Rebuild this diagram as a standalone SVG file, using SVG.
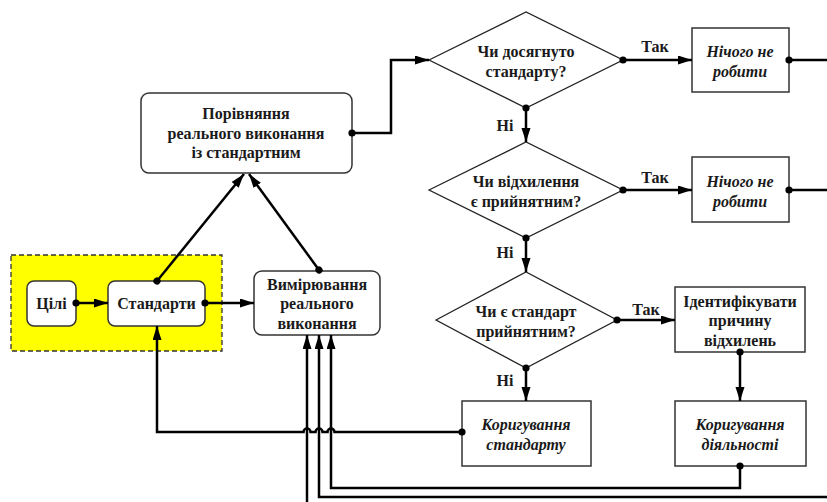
<svg xmlns="http://www.w3.org/2000/svg" width="827" height="502" viewBox="0 0 827 502">
<defs>
<marker id="arr" markerUnits="userSpaceOnUse" markerWidth="16" markerHeight="10" refX="14" refY="4.5" orient="auto"><path d="M0,0 L14,4.5 L0,9 z" fill="#000"/></marker>
<marker id="dot" markerUnits="userSpaceOnUse" markerWidth="8" markerHeight="8" refX="4" refY="4" orient="auto"><circle cx="4" cy="4" r="3.6" fill="#000"/></marker>
</defs>
<style>
.rb{fill:#fff;stroke:#333;stroke-width:1.5}
.bx{fill:#fff;stroke:#333;stroke-width:1.5}
.dm{fill:#fff;stroke:#222;stroke-width:1.3}
.c{fill:none;stroke:#000;stroke-width:2.5}
.a{marker-end:url(#arr)}
.d{marker-start:url(#dot)}
</style>
<rect x="11" y="255" width="211" height="96" fill="#ffff00" stroke="#333" stroke-width="1.3" stroke-dasharray="5,3"/>
<g font-family="Liberation Serif" font-weight="bold" font-size="16" fill="#1a1a1a" text-anchor="middle">
<g id="n_cili"><rect class="rb" x="27" y="281" width="49" height="45" rx="7"/><text x="51.5" y="309">Цілі</text></g>
<g id="n_standarty"><rect class="rb" x="108" y="281" width="97" height="45" rx="7"/><text x="156.5" y="309">Стандарти</text></g>
<g id="n_vymir"><rect class="rb" x="254" y="271" width="126" height="64" rx="8"/><text x="317" y="290">Вимірювання</text><text x="317" y="309">реального</text><text x="317" y="329">виконання</text></g>
<g id="n_porivn"><rect class="rb" x="141" y="93" width="211" height="80" rx="8"/><text x="246" y="119">Порівняння</text><text x="246" y="139">реального виконання</text><text x="246" y="158">із стандартним</text></g>
<g id="n_d1"><polygon class="dm" points="429,60 526,12 623,60 526,108"/><text x="526" y="57">Чи досягнуто</text><text x="526" y="77">стандарту?</text></g>
<g id="n_b1"><rect class="bx" x="692" y="28" width="97" height="64"/><text font-style="italic" x="740" y="57">Нічого не</text><text font-style="italic" x="740" y="77">робити</text></g>
<g id="n_d2"><polygon class="dm" points="429,190 526,142 623,190 526,238"/><text x="526" y="187">Чи відхилення</text><text x="526" y="207">є прийнятним?</text></g>
<g id="n_b2"><rect class="bx" x="692" y="157" width="97" height="65"/><text font-style="italic" x="740" y="187">Нічого не</text><text font-style="italic" x="740" y="207">робити</text></g>
<g id="n_d3"><polygon class="dm" points="436,320 526,272 617,320 526,368"/><text x="526" y="317">Чи є стандарт</text><text x="526" y="337">прийнятним?</text></g>
<g id="n_ident"><rect class="bx" x="675" y="287" width="130" height="65"/><text x="740" y="307">Ідентифікувати</text><text x="740" y="326">причину</text><text x="740" y="346">відхилень</text></g>
<g id="n_kors"><rect class="bx" x="462" y="401" width="129" height="65"/><text font-style="italic" x="526" y="430">Коригування</text><text font-style="italic" x="526" y="450">стандарту</text></g>
<g id="n_kord"><rect class="bx" x="675" y="401" width="131" height="65"/><text font-style="italic" x="740" y="430">Коригування</text><text font-style="italic" x="740" y="450">діяльності</text></g>
<g id="connectors">
<path class="c d a" d="M76,303 H108"/>
<path class="c d a" d="M205,303 H254"/>
<path class="c d a" d="M157,281 L244,174"/>
<path class="c d a" d="M319,270 L249,174"/>
<path class="c d a" d="M352,133 H391 V60 H429"/>
<path class="c d a" d="M623,60 H692"/>
<path class="c d" d="M789,60 H830"/>
<path class="c d a" d="M526,108 V142"/>
<path class="c d a" d="M623,190 H692"/>
<path class="c d" d="M789,190 H830"/>
<path class="c d a" d="M526,238 V272"/>
<path class="c d a" d="M617,320 H675"/>
<path class="c d a" d="M740,352 V401"/>
<path class="c d a" d="M526,368 V401"/>
<path class="c d a" d="M462,432 H334.5 A3.5,3.5 0 0 0 327.5,432 H322.5 A3.5,3.5 0 0 0 315.5,432 H310.5 A3.5,3.5 0 0 0 303.5,432 H157 V326"/>
<path class="c d a" d="M740,466 V488 H331 V335"/>
<path class="c a" d="M830,497 H319 V335"/>
<path class="c a" d="M307,505 V335"/>
<text x="655" y="52">Так</text>
<text x="655" y="183">Так</text>
<text x="646" y="315">Так</text>
<text x="505" y="131">Ні</text>
<text x="505" y="258">Ні</text>
<text x="505" y="386">Ні</text>
</g>
</g>
</svg>
